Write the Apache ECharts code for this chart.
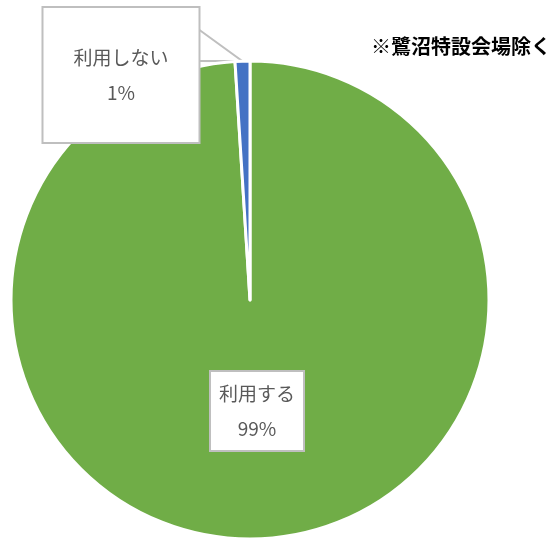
<!DOCTYPE html>
<html lang="ja">
<head>
    <meta charset="utf-8">
    <title>利用状況</title>
    <script src="https://cdn.jsdelivr.net/npm/echarts@6/dist/echarts.min.js"></script>
    <style type="text/css">
    html, body {
        margin: 0;
        background: #ffffff;
    }

    #chart {
        width: 559px;
        height: 538px;
    }
    </style>
</head>
<body>
    <div id="chart"></div>
    <script type="text/javascript">
    // データ
    var categories = ['利用する', '利用しない'];
    var values = [99, 1];
    var colors = ['#70AD47', '#4472C4'];
    var note = '※鷺沼特設会場除く';

    // ラベルの位置（中心座標）
    var labelPos = {
        '利用する': { x: 257, y: 411 },
        '利用しない': { x: 121, y: 75 }
    };

    var chart = echarts.init(document.getElementById('chart'), null, { renderer: 'canvas' });

    chart.setOption({
        animation: false,
        title: {
            text: note,
            right: 3,
            top: 31,
            textStyle: {
                fontFamily: 'Noto Sans CJK JP',
                fontSize: 20,
                fontWeight: 'bold',
                color: '#000000'
            }
        },
        series: [{
            type: 'pie',
            center: [250, 300],
            radius: 239,
            startAngle: 90,
            clockwise: true,
            data: categories.map(function (name, i) {
                var item = {
                    name: name,
                    value: values[i],
                    itemStyle: { color: colors[i] }
                };
                if (i === 0) {
                    item.labelLine = { show: false };
                } else {
                    // 吹き出し風の大きい枠
                    item.label = { padding: [32, 30, 32, 30] };
                }
                return item;
            }),
            itemStyle: {
                borderColor: '#ffffff',
                borderWidth: 3
            },
            label: {
                show: true,
                position: 'outside',
                formatter: '{b}\n{d}%',
                fontFamily: 'Noto Sans CJK JP',
                fontSize: 19,
                lineHeight: 35,
                color: '#595959',
                align: 'center',
                backgroundColor: '#ffffff',
                borderColor: '#bfbfbf',
                borderWidth: 2,
                padding: [4, 8]
            },
            labelLine: {
                show: true,
                lineStyle: { color: '#bfbfbf', width: 2 }
            },
            labelLayout: function (params) {
                var p = labelPos[params.text.split('\n')[0]];
                var res = {
                    x: p.x,
                    y: p.y,
                    align: 'center',
                    verticalAlign: 'middle'
                };
                if (params.labelLinePoints) {
                    // 吹き出しの先端をスライスの外周に合わせる
                    var right = p.x + params.labelRect.width / 2 - 1;
                    var tip = params.labelLinePoints[0];
                    res.labelLinePoints = [[right, p.y - 45], tip, [right, p.y - 14]];
                }
                return res;
            },
            emphasis: { disabled: true }
        }]
    });
    </script>
</body>
</html>
